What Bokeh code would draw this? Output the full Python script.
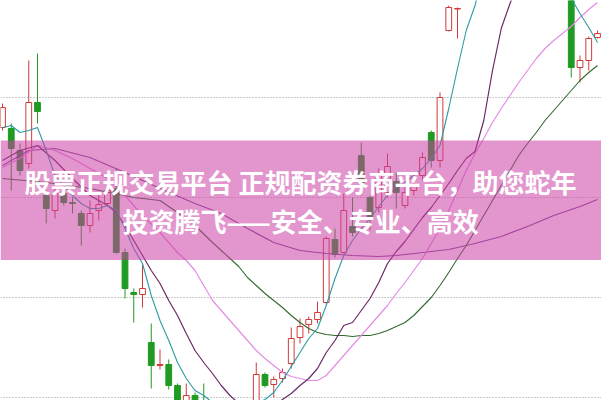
from bokeh.plotting import figure
from bokeh.models import Range1d, BoxAnnotation, Label, Grid, FixedTicker, ColumnDataSource
from bokeh.embed import file_html
from bokeh.resources import INLINE

NA = float("nan")  # candles that lie entirely above the visible window

# ---- candle data (arbitrary price units) ----
opens = [27.0, 26.9, 24.7, 23.4, 29.5, 20.2, 18.7, 20.4, 19.5, 18.4,
         17.2, 18.7, 19.4, 20.9, 14.5, 10.5, 10.3, 5.5, 3.2, 3.3,
         1.2, -0.8, 0.2, -0.8, -2.3, -3.3, -4.3, -4.1, -3.3, -0.8,
         2.3, 1.3, 1.9, 3.4, 6.0, 7.3, 7.8, 9.5, 15.8, 14.5,
         17.1, 24.2, 20.0, 19.0, 20.5, 21.6, 19.2, 20.7, 22.2, 26.5,
         23.7, 36.7, 38.85, NA, NA, NA, NA, NA, NA, NA,
         NA, NA, NA, NA, NA, 45.0, 33.0, 33.7, 36.0]
closes = [29.0, 24.9, 22.7, 29.5, 28.6, 18.9, 20.4, 19.5, 19.4, 17.2,
          18.4, 19.3, 20.7, 14.5, 10.9, 10.3, 10.9, 3.2, 3.3, 1.2,
          -0.5, 0.2, -1.3, -2.3, -3.3, -4.1, -3.3, -3.1, -1.3, 2.3,
          1.2, 1.8, 2.5, 5.9, 7.1, 7.8, 8.5, 15.9, 14.3, 18.7,
          16.5, 21.5, 18.0, 22.2, 23.1, 20.5, 20.5, 21.3, 24.0, 23.7,
          30.0, 39.0, 38.9, NA, NA, NA, NA, NA, NA, NA,
          NA, NA, NA, NA, NA, 33.0, 33.7, 35.9, 36.4]
highs = [29.4, 27.4, 25.4, 33.7, 34.4, 20.7, 20.9, 20.9, 20.0, 18.7,
         19.7, 20.4, 22.0, 22.9, 14.9, 10.9, 13.3, 7.4, 4.8, 3.8,
         1.4, 1.4, 0.5, 1.4, -0.8, -1.8, -1.5, -2.3, -0.5, 3.5,
         2.5, 2.1, 2.9, 7.0, 7.9, 8.1, 9.6, 16.1, 16.9, 20.4,
         20.0, 25.5, 20.2, 22.9, 24.4, 22.5, 21.2, 21.9, 24.5, 26.7,
         30.5, 39.2, 39.0, NA, NA, NA, NA, NA, NA, NA,
         NA, NA, NA, NA, NA, 46.0, 34.2, 36.1, 36.7]
lows = [26.7, 20.7, 22.2, 22.9, 27.4, 17.4, 17.9, 19.2, 18.4, 15.2,
        16.5, 17.7, 19.1, 14.4, 9.9, 7.5, 9.0, 0.9, 2.8, 0.8,
        -1.1, -1.3, -1.8, -2.8, -4.3, -4.8, -4.9, -4.8, -3.8, -1.1,
        1.0, 0.0, 1.5, 2.9, 5.4, 6.4, 7.4, 9.3, 14.0, 14.4,
        16.1, 20.2, 16.7, 18.5, 20.0, 18.9, 18.9, 20.2, 21.7, 23.0,
        23.0, 36.6, 35.9, NA, NA, NA, NA, NA, NA, NA,
        NA, NA, NA, NA, NA, 32.0, 31.5, 32.7, 35.9]

# ---- moving-average lines (index, value) ----
ma5_x = [0, 1, 2, 3, 4, 5, 6, 7, 8, 9, 10, 11, 12, 13, 14, 15, 16, 17, 18, 19,
         20, 21, 22, 23, 24, 26, 28, 29, 30, 31, 32, 33, 34, 35, 36, 37, 38, 39,
         40, 41, 42, 43, 44, 45, 46, 47, 48, 49, 50, 51, 52, 53, 54, 55, 59, 63,
         64, 65, 66, 67, 68]
ma5_y = [27.0, 27.2, 26.5, 26.7, 27.0, 24.7, 22.2, 21.2, 20.2, 19.4, 18.9, 18.9,
         19.2, 18.7, 16.9, 14.9, 13.4, 10.2, 7.7, 5.7, 3.5, 1.9, 0.7, 0.2, -0.5,
         -1.3, -1.1, -0.6, -0.2, 0.5, 1.7, 3.1, 4.5, 5.9, 6.9, 9.2, 11.9, 14.2,
         15.7, 16.9, 17.9, 19.1, 20.2, 21.0, 21.5, 22.2, 22.9, 23.9, 25.2, 28.9,
         32.9, 36.7, 39.2, 42.7, 46.0, 45.5, 43.0, 39.9, 38.4, 37.0, 35.5]

ma10_x = [0, 2, 4, 6, 8, 10, 12, 13, 14, 15, 16, 17, 18, 19, 20, 21, 22, 23, 24,
          25, 26, 27, 28, 30, 31, 32, 33, 34, 35, 36, 37, 38, 39, 40, 41, 42, 43,
          44, 45, 46, 47, 48, 49, 50, 51, 52, 53, 54, 55, 56, 57, 58, 59, 62, 65, 68]
ma10_y = [23.7, 24.7, 25.2, 23.7, 21.9, 20.2, 19.2, 18.5, 17.2, 15.7, 14.2, 12.7,
          11.4, 9.7, 8.2, 6.4, 4.7, 3.5, 2.4, 1.2, 0.2, -0.6, -1.1, -1.3, -0.8,
          -0.2, 0.4, 1.2, 1.9, 2.9, 4.5, 5.7, 7.2, 7.5, 8.7, 9.9, 11.5, 13.4, 14.6,
          15.6, 16.8, 18.0, 19.0, 20.2, 21.4, 22.7, 23.9, 24.6, 27.7, 32.7, 36.9,
          39.4, 41.7, 45.0, 46.0, 45.0]

ma20_x = [0, 2, 4, 6, 8, 10, 12, 14, 16, 18, 20, 21, 22, 23, 24, 25, 26, 27, 28,
          29, 30, 31, 32, 33, 34, 35, 36, 37, 38, 39, 40, 41, 42, 43, 44, 45, 46,
          47, 48, 49, 50, 51, 52, 53, 54, 55, 56, 57, 58, 59, 60, 61, 62, 63, 64,
          65, 66, 67, 68]
ma20_y = [23.0, 23.9, 25.2, 24.7, 23.9, 22.9, 21.9, 20.2, 18.2, 16.5, 14.5, 13.7,
          12.7, 11.2, 9.7, 8.7, 7.7, 6.7, 5.7, 4.7, 3.9, 3.2, 2.5, 2.1, 1.9, 1.7,
          1.7, 2.2, 3.2, 4.2, 5.2, 6.2, 7.2, 8.2, 9.2, 10.4, 11.5, 12.7, 13.9, 15.4,
          16.9, 18.7, 20.7, 22.7, 24.4, 25.9, 27.5, 28.9, 30.2, 31.5, 32.7, 33.9,
          34.9, 35.7, 36.4, 37.1, 38.0, 38.8, 39.5]

ma30_x = [0, 5, 10, 15, 18, 20, 22, 24, 25, 26, 27, 28, 29, 30, 31, 32, 33, 34,
          35, 36, 37, 38, 39, 40, 41, 42, 43, 44, 45, 46, 47, 48, 49, 50, 51, 52,
          53, 54, 55, 56, 57, 58, 59, 60, 61, 62, 63, 64, 65, 66, 67, 68]
ma30_y = [21.9, 21.5, 20.9, 20.0, 19.7, 18.5, 17.2, 15.5, 14.7, 13.9, 13.1, 12.0,
          11.2, 10.4, 9.7, 9.0, 8.2, 7.5, 6.9, 6.5, 6.3, 6.2, 6.2, 6.1, 6.2, 6.2,
          6.4, 6.7, 7.1, 7.5, 8.2, 9.1, 10.0, 11.2, 12.5, 13.9, 15.2, 16.7, 18.2,
          19.7, 21.2, 22.7, 24.2, 25.4, 26.5, 27.7, 28.7, 29.7, 30.7, 31.7, 32.5,
          33.2]

ma60_x = [0, 3, 6, 10, 14, 18, 22, 25, 28, 31, 34, 37, 40, 43, 45, 48, 51, 54,
          57, 60, 63, 66, 68]
ma60_y = [23.2, 24.7, 24.9, 24.0, 22.5, 20.9, 19.4, 18.4, 16.9, 15.5, 14.7, 14.4,
          14.2, 14.1, 14.2, 14.5, 14.8, 15.4, 16.1, 17.1, 18.2, 19.1, 19.8]

grid_levels = [0, 10, 20, 30]

title_line1 = "股票正规交易平台 正规配资券商平台，助您蛇年"
title_line2 = "投资腾飞——安全、专业、高效"

# ---- build ----
RED = "#d23a3a"
GREEN = "#1f9a22"
n = len(opens)
idx = list(range(n))
up = [not (c < o) for o, c in zip(opens, closes)]
src = ColumnDataSource(dict(
    x=idx,
    top=[max(o, c) for o, c in zip(opens, closes)],
    bottom=[min(o, c) for o, c in zip(opens, closes)],
    high=highs, low=lows,
    color=[RED if u else GREEN for u in up],
    fill=["#ffffff" if u else GREEN for u in up],
))

p = figure(width=601, height=400, output_backend="svg", toolbar_location=None,
           x_axis_location=None, y_axis_location=None,
           x_range=Range1d(-0.229, 68.457), y_range=Range1d(-0.3, 39.7),
           min_border=0, outline_line_color=None, background_fill_color="white")
p.xgrid.visible = False
p.ygrid.visible = False
p.add_layout(Grid(dimension=1, ticker=FixedTicker(ticks=grid_levels),
                  grid_line_color="#9a9a9a", grid_line_dash="1 2", grid_line_width=1))

p.segment(x0="x", y0="low", x1="x", y1="high", color="color", line_width=1, source=src)
p.vbar(x="x", top="top", bottom="bottom", width=0.66, fill_color="fill",
       line_color="color", line_width=1, source=src)

p.line(ma60_x, ma60_y, line_color="#7d4a96", line_width=1.2)
p.line(ma30_x, ma30_y, line_color="#2f6a2f", line_width=1.1)
p.line(ma20_x, ma20_y, line_color="#e48de4", line_width=1.2)
p.line(ma10_x, ma10_y, line_color="#6b2a66", line_width=1.2)
p.line(ma5_x, ma5_y, line_color="#2a9ca6", line_width=1.1)

p.add_layout(BoxAnnotation(bottom=13.75, top=25.7, fill_color="#cb40a4",
                           fill_alpha=0.55, line_color=None))

for txt, yy in ((title_line1, 21.6), (title_line2, 17.7)):
    p.add_layout(Label(x=34.06, y=yy, text=txt, text_align="center",
                       text_baseline="middle", text_color="white",
                       text_font="Noto Sans CJK SC", text_font_style="bold",
                       text_font_size="26px"))

open("out.html", "w").write(file_html(p, INLINE))
